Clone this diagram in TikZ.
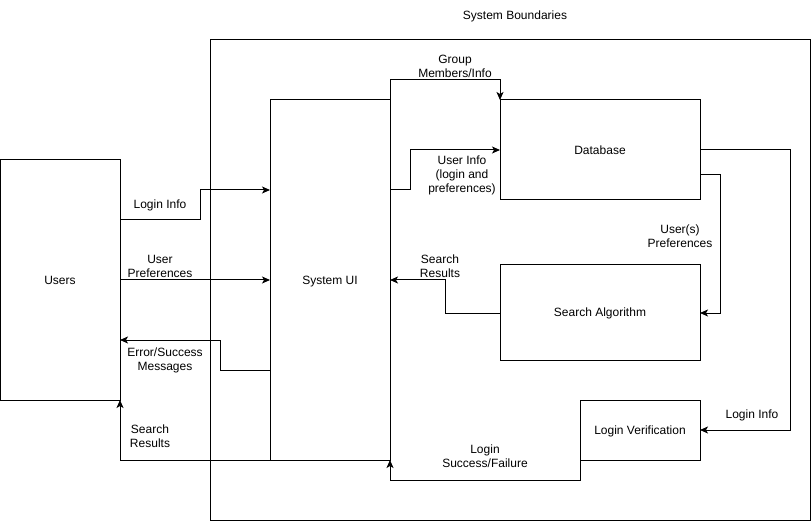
\documentclass[tikz,border=0pt]{standalone}
\usepackage{fontspec}
\setmainfont{Liberation Sans}
\usetikzlibrary{arrows.meta}
\begin{document}
\begin{tikzpicture}[x=1pt,y=-1pt,
  box/.style={draw,line width=1pt,rectangle,inner sep=0pt,outer sep=0pt,text depth=0pt,font=\fontsize{12}{14}\selectfont},
  lbl/.style={align=center,inner sep=0pt,font=\fontsize{12}{14}\selectfont},
  arr/.style={line width=1pt,-{Stealth[length=8pt,width=7pt,inset=2pt]}}]
\useasboundingbox (0,0) rectangle (811,521);
% system boundary
\node[box,minimum width=600pt,minimum height=480pt] (sys) at (510,280) {};
\node[lbl] (systitle) at (515,16) {System Boundaries};
% components
\node[box,minimum width=120pt,minimum height=240pt] (users) at (60,280) {Users};
\node[box,minimum width=120pt,minimum height=360pt] (ui) at (330,280) {System UI};
\node[box,minimum width=200pt,minimum height=100pt] (db) at (600,150) {Database};
\node[box,minimum width=200pt,minimum height=95pt] (search) at (600,312.5) {Search Algorithm};
\node[box,minimum width=120pt,minimum height=60pt] (verify) at (640,430) {Login Verification};
% users -> UI
\draw[arr] (users.east |- 0,220) -- (200,220) -- (200,190) -- (ui.west |- 0,190);
\node[lbl] (l1) at (160,205) {Login Info};
\draw[arr] (users.east) -- (ui.west);
\node[lbl] (l2) at (160,266) {User\\Preferences};
% UI -> users
\draw[arr] (ui.west |- 0,370) -- (220,370) -- (220,340) -- (users.east |- 0,340);
\node[lbl] (l3) at (165,360) {Error/Success\\Messages};
\draw[arr] (ui.south west) -- (users.south east |- 0,460) -- (users.south east);
\node[lbl] (l4) at (150,436) {Search\\Results};
% UI -> database
\draw[arr] (ui.north east) -- (390,80) -- (500,80) -- (db.north west);
\node[lbl] (l5) at (455,66) {Group\\Members/Info};
\draw[arr] (ui.east |- 0,190) -- (410,190) -- (410,150) -- (db.west);
\node[lbl] (l6) at (462,175) {User Info\\(login and\\preferences)};
% database -> search algorithm
\draw[arr] (db.east |- 0,175) -- (720,175) -- (720,313) -- (search.east |- 0,313);
\node[lbl] (l7) at (680,236) {User(s)\\Preferences};
% search algorithm -> UI
\draw[arr] (search.west |- 0,313) -- (445,313) -- (445,280) -- (ui.east);
\node[lbl] (l8) at (440,266) {Search\\Results};
% database -> login verification
\draw[arr] (db.east) -- (790,150) -- (790,430) -- (verify.east);
\node[lbl] (l9) at (752,415) {Login Info};
% login verification -> UI
\draw[arr] (verify.south west) -- (580,480) -- (390,480) -- (ui.south east);
\node[lbl] (l10) at (485,456) {Login\\Success/Failure};
\end{tikzpicture}
\end{document}
